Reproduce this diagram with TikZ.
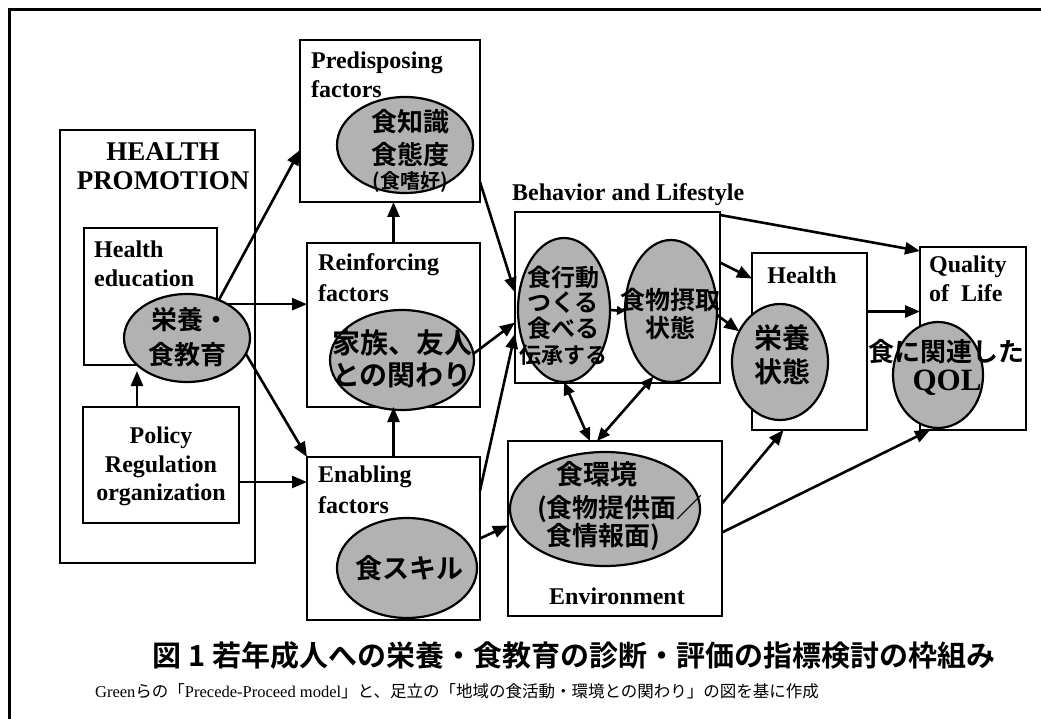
\documentclass[tikz,border=0pt]{standalone}
\usepackage{fontspec}
\setmainfont{Liberation Serif}
\newfontfamily\cjk{Noto Sans CJK JP}[BoldFont={Noto Sans CJK JP Bold}]
\usetikzlibrary{arrows.meta,shapes.geometric}
\tikzset{
 box/.style={draw,line width=2.6pt,inner sep=0pt,outer sep=0pt},
 ell/.style={ellipse,draw,line width=2.2pt,fill=black!30,inner sep=0pt,outer sep=0pt},
 lab/.style={font=\fontsize{24}{26}\selectfont\bfseries,inner sep=0pt},
 jl/.style={font=\fontsize{#1}{#1}\selectfont\cjk\bfseries,inner sep=0pt},
 jl/.default=26,
 arr/.style={line width=2.6pt,-{Triangle[length=15pt,width=12pt]}},
 darr/.style={line width=2.6pt,{Triangle[length=13pt,width=11pt]}-{Triangle[length=13pt,width=11pt]}},
}
\begin{document}
\begin{tikzpicture}[x=1pt,y=-1pt]
\useasboundingbox[fill=white] (0,0) rectangle (1041,719);
% outer frame (top and left only)
\draw[line width=3pt] (9,719) -- (9,10) -- (1041,10);

% boxes
\node[box,minimum width=195pt,minimum height=433pt] (hp) at (157.5,346.5) {};
\node[box,minimum width=133pt,minimum height=137pt] (he) at (150.5,296.5) {};
\node[box,fill=white,minimum width=156pt,minimum height=116pt] (pol) at (161,465) {};
\node[box,minimum width=180pt,minimum height=162pt] (pre) at (390,121) {};
\node[box,minimum width=173pt,minimum height=164pt] (rei) at (393.5,325) {};
\node[box,minimum width=173pt,minimum height=163pt] (ena) at (393.5,538.5) {};
\node[box,minimum width=205pt,minimum height=171pt] (beh) at (617.5,297.5) {};
\node[box,minimum width=214pt,minimum height=175pt] (env) at (615,528.5) {};
\node[box,minimum width=115pt,minimum height=177pt] (hea) at (809.5,341.5) {};
\node[box,minimum width=106pt,minimum height=183pt] (qol) at (973,338.5) {};

% ellipses
\node[ell,minimum width=126pt,minimum height=88pt] (eedu) at (187,338) {};
\node[ell,minimum width=136pt,minimum height=96pt] (epre) at (405,145) {};
\node[ell,minimum width=144pt,minimum height=100pt] (erei) at (402,360) {};
\node[ell,minimum width=140pt,minimum height=100pt] (eena) at (407,568) {};
\node[ell,minimum width=92pt,minimum height=144pt] (eb1) at (564,310) {};
\node[ell,minimum width=92pt,minimum height=142pt] (eb2) at (671,311) {};
\node[ell,minimum width=96pt,minimum height=116pt] (ehea) at (780,362) {};
\node[ell,minimum width=90pt,minimum height=106pt] (eqol) at (938,375) {};
\node[ell,minimum width=190pt,minimum height=114pt] (eenv) at (605,509) {};

% connectors
\draw[arr] (eedu.50) -- ([yshift=-29pt]pre.west);
\draw[arr] (eedu.40) -- (eedu.40 -| rei.west);
\draw[arr] (eedu.-15) -- (ena.north west);
\draw[arr] ([xshift=-24pt]pol.north) -- ++(0,-36);
\draw[arr] ([yshift=-17pt]pol.east) -- ([yshift=-17pt]pol.east -| ena.west);
\draw[arr] (rei.north) -- (rei.north |- pre.south);
\draw[arr] (ena.north) -- (rei.south);
\draw[arr] ([yshift=20pt]pre.south east) -- ([yshift=5pt]beh.west);
\draw[arr] (erei.5) -- ([yshift=-25pt]beh.west);
\draw[arr] ([yshift=48pt]ena.east) -- ([yshift=-36pt]beh.west);
\draw[arr] (ena.east) -- ([yshift=3pt]env.west);
\draw[darr] ([xshift=-25pt]env.north) -- (eb1.south);
\draw[darr] ([xshift=-18pt]env.north) -- (eb2.-105);
\draw[arr] ([yshift=25pt]env.east) -- ([xshift=-26pt]hea.south);
\draw[arr] ([yshift=-4pt]env.east) -- ([xshift=-43pt]qol.south);
\draw[arr] ([yshift=-3pt]beh.north east) -- ([yshift=-4pt]qol.north west);
\draw[arr] ([yshift=35pt]beh.east) -- ([yshift=63pt]hea.west);
\draw[arr] (eb2.-5) -- (ehea.143);
\draw[arr] ([yshift=30pt]hea.east) -- ([yshift=30pt]hea.east -| qol.west);
\draw[line width=2.6pt,-{Triangle[length=8pt,width=9pt]}] (eb1.east) -- (eb2.west);

% Latin labels
\node[lab,font=\fontsize{27}{29}\selectfont\bfseries] (thp1) at (163,152) {HEALTH};
\node[lab,font=\fontsize{27}{29}\selectfont\bfseries] (thp2) at (163,181) {PROMOTION};
\node[lab,anchor=west] (the1) at (94,249) {Health};
\node[lab,anchor=west] (the2) at (94,278) {education};
\node[lab] (tpol1) at (161,438) {Policy};
\node[lab] (tpol2) at (161,467) {Regulation};
\node[lab] (tpol3) at (161,495) {organization};
\node[lab,anchor=west] (tpre1) at (311,63) {Predisposing};
\node[lab,anchor=west] (tpre2) at (311,89) {factors};
\node[lab,anchor=west] (trei1) at (318,265) {Reinforcing};
\node[lab,anchor=west] (trei2) at (318,293) {factors};
\node[lab,anchor=west] (tena1) at (318,477) {Enabling};
\node[lab,anchor=west] (tena2) at (318,505) {factors};
\node[lab,anchor=west] (tbeh) at (512,195) {Behavior and Lifestyle};
\node[lab] (thea) at (802,275) {Health};
\node[lab,anchor=west] (tqol1) at (929,267) {Quality};
\node[lab,anchor=west] (tqol2) at (929,293) {of~~Life};
\node[lab] (tenv) at (617,596) {Environment};

% Japanese labels
\node[jl] (jedu1) at (190,320) {栄養・};
\node[jl] (jedu2) at (187,355) {食教育};
\node[jl] (jpre1) at (410,122) {食知識};
\node[jl] (jpre2) at (410,155) {食態度};
\node[jl=20] (jpre3) at (410,182) {(食嗜好)};
\node[jl=28] (jrei1) at (402,343) {家族、友人};
\node[jl=28] (jrei2) at (402,375) {との関わり};
\node[jl=27] (jena) at (409,568) {食スキル};
\node[jl=24] (jb11) at (563,277) {食行動};
\node[jl=24] (jb12) at (563,303) {つくる};
\node[jl=24] (jb13) at (563,328) {食べる};
\node[jl=22] (jb14) at (563,355) {伝承する};
\node[jl=25] (jb21) at (670,300) {食物摂取};
\node[jl=25] (jb22) at (670,328) {状態};
\node[jl=28] (jhea1) at (782,338) {栄養};
\node[jl=28] (jhea2) at (782,372) {状態};
\node[jl=26] (jqol1) at (946,352) {食に関連した};
\node[lab,font=\fontsize{31}{31}\selectfont\bfseries] (jqol2) at (947,383) {QOL};
\node[jl=27] (jenv1) at (597,474) {食環境};
\node[jl=26] (jenv2) at (620,509) {(食物提供面／};
\node[jl=26] (jenv3) at (603,537) {食情報面)};

% caption
\node[font=\fontsize{29}{31}\selectfont\cjk\bfseries,inner sep=0pt] (cap) at (574,656) {図 1 若年成人への栄養・食教育の診断・評価の指標検討の枠組み};
\node[font=\fontsize{16.5}{18}\selectfont,inner sep=0pt] (sub) at (457,691) {Green{\cjk らの「}Precede-Proceed model{\cjk 」と、足立の「地域の食活動・環境との関わり」の図を基に作成}};
\end{tikzpicture}
\end{document}
